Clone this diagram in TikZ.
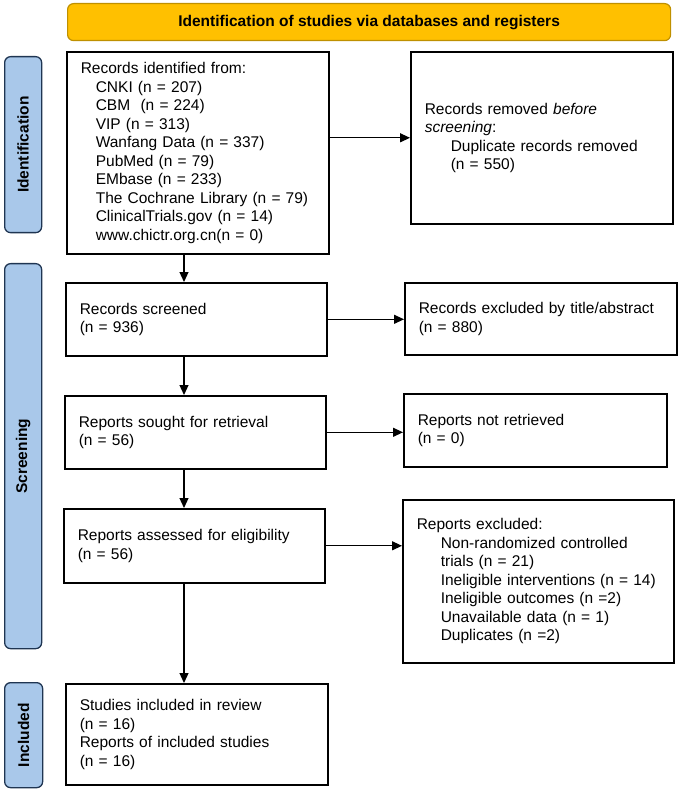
\documentclass[tikz,border=0pt]{standalone}
\usepackage{fontspec}
\setmainfont{Liberation Sans}
\usetikzlibrary{arrows.meta}
\definecolor{hdrfill}{HTML}{FFC000}
\definecolor{hdrdraw}{HTML}{BF9000}
\definecolor{sidefill}{HTML}{A9C8EA}
\definecolor{sidedraw}{HTML}{1F3552}
\tikzset{
  txt/.style={font=\fontsize{15.5}{18.5}\selectfont},
  box/.style={txt, draw=black, line width=1.6pt, anchor=north west, align=left,
    inner xsep=14pt, inner ysep=0pt, fill=white},
  side/.style={draw=sidedraw, fill=sidefill, line width=1.3pt, rounded corners=6pt,
    anchor=north west, inner sep=0pt},
  sidetxt/.style={font=\fontsize{15.5}{18}\selectfont\bfseries, rotate=90},
  arr/.style={line width=1.2pt, -{Triangle[length=10pt,width=9pt]}},
}
\newcommand{\ind}{\hspace*{15pt}}
\begin{document}
\begin{tikzpicture}[x=1pt,y=-1pt]
\useasboundingbox (0,0) rectangle (680,791);

% header
\node[draw=hdrdraw, fill=hdrfill, line width=1.2pt, rounded corners=6pt, anchor=north west,
  minimum width=603pt, minimum height=37pt, inner sep=0pt,
  font=\fontsize{15.5}{18}\selectfont\bfseries] (hdr) at (67,3)
  {Identification of studies via databases and registers};

% side labels
\node[side, minimum width=37pt, minimum height=176pt] (sid) at (4,56) {};
\node[sidetxt] (sidt) at (sid.center) {Identification};
\node[side, minimum width=37pt, minimum height=385pt] (sscr) at (4,263) {};
\node[sidetxt] (sscrt) at (sscr.center) {Screening};
\node[side, minimum width=38pt, minimum height=105pt] (sinc) at (4,682) {};
\node[sidetxt] (sinct) at (sinc.center) {Included};

% boxes
\node[box, text width=234pt, minimum height=202pt] (ident) at (66,51) {%
Records identified from:\\
\ind CNKI (n = 207)\\
\ind CBM\ \ (n = 224)\\
\ind VIP (n = 313)\\
\ind Wanfang Data (n = 337)\\
\ind PubMed (n = 79)\\
\ind EMbase (n = 233)\\
\ind The Cochrane Library (n = 79)\\
\ind ClinicalTrials.gov (n = 14)\\
\ind www.chictr.org.cn(n = 0)};

\node[box, text width=234pt, minimum height=172pt] (removed) at (410,51) {%
Records removed \textit{before}\\
\textit{screening}:\\
\hspace*{26pt}Duplicate records removed\\
\hspace*{26pt}(n = 550)};

\node[box, text width=233pt, minimum height=73pt] (screened) at (65,282) {%
Records screened\\(n = 936)};
\node[box, text width=244pt, minimum height=72pt] (excl) at (404,282) {%
Records excluded by title/abstract\\(n = 880)};

\node[box, text width=233pt, minimum height=73pt] (sought) at (64,395) {%
Reports sought for retrieval\\(n = 56)};
\node[box, text width=235pt, minimum height=73pt] (notret) at (403,393) {%
Reports not retrieved\\(n = 0)};

\node[box, text width=233pt, minimum height=74pt] (assessed) at (63,508) {%
Reports assessed for eligibility\\(n = 56)};
\node[box, text width=243pt, minimum height=163pt] (repexcl) at (402,499) {%
Reports excluded:\\
\hspace*{24pt}Non-randomized controlled\\
\hspace*{24pt}trials (n = 21)\\
\hspace*{24pt}Ineligible interventions (n = 14)\\
\hspace*{24pt}Ineligible outcomes (n =2)\\
\hspace*{24pt}Unavailable data (n = 1)\\
\hspace*{24pt}Duplicates (n =2)};

\node[box, text width=234pt, minimum height=101pt] (incl) at (65,683) {%
Studies included in review\\
(n = 16)\\
Reports of included studies\\
(n = 16)};

% connectors
\coordinate (ax) at (184,0);
\draw[arr] (ident.south -| ax) -- (screened.north -| ax);
\draw[arr] (screened.south -| ax) -- (sought.north -| ax);
\draw[arr] (sought.south -| ax) -- (assessed.north -| ax);
\draw[arr] (assessed.south -| ax) -- (incl.north -| ax);

\draw[arr] (removed.west -| ident.east) -- (removed.west);
\draw[arr] (screened.east) -- (screened.east -| excl.west);
\draw[arr] (sought.east) -- (sought.east -| notret.west);
\draw[arr] (assessed.east) -- (assessed.east -| repexcl.west);
\end{tikzpicture}
\end{document}
